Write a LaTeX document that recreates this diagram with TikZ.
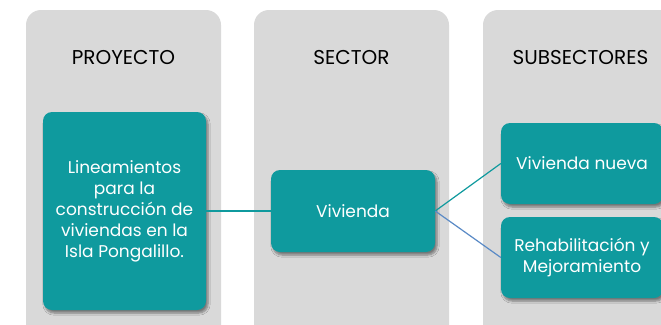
\documentclass[tikz,border=0pt]{standalone}
\usepackage{fontspec}
\setmainfont{Poppins}
\usepackage{tikz}
\usetikzlibrary{positioning,shadows.blur}
\usepackage{xcolor}
\definecolor{colgray}{HTML}{D9D9D9}
\definecolor{boxteal}{HTML}{0F9A9E}
\definecolor{linkblue}{HTML}{5A8AC6}

\begin{document}
\begin{tikzpicture}[x=1pt,y=-1pt,
    column/.style={fill=colgray, rounded corners=15pt, minimum width=195pt, minimum height=340pt, inner sep=0pt},
    header/.style={font=\fontsize{20}{24}\selectfont, text=black},
    item/.style={fill=boxteal, rounded corners=9pt, text=white, align=center, inner sep=0pt,
        font=\fontsize{17}{21}\selectfont,
        blur shadow={shadow xshift=2pt, shadow yshift=-3pt, shadow opacity=45, shadow blur steps=6}},
    link/.style={line width=1.2pt}]
    \clip (0,0) rectangle (661,324);
    \fill[white] (0,0) rectangle (661,324);

    % Columns
    \node[column] (colproy) at (123.5,180) {};
    \node[column] (colsect) at (351.5,180) {};
    \node[column] (colsub) at (580.5,180) {};

    % Headers
    \node[header] (hproy) at (123.5,58) {PROYECTO};
    \node[header] (hsect) at (351.5,58) {SECTOR};
    \node[header] (hsub) at (580.5,58) {SUBSECTORES};

    % Boxes
    \node[item, minimum width=163pt, minimum height=198pt] (proyecto) at (124.5,211)
        {Lineamientos\\para la\\construcción de\\viviendas en la\\Isla Pongalillo.};
    \node[item, minimum width=164pt, minimum height=82pt] (vivienda) at (353,211) {Vivienda};
    \node[item, minimum width=162pt, minimum height=81pt] (nueva) at (582,163.5) {Vivienda nueva};
    \node[item, minimum width=162pt, minimum height=81pt] (rehab) at (582,257.5) {Rehabilitación y\\Mejoramiento};

    % Connectors
    \draw[link, boxteal] (proyecto.east) -- (vivienda.west);
    \draw[link, boxteal] (vivienda.east) -- (nueva.west);
    \draw[link, linkblue] (vivienda.east) -- (rehab.west);
\end{tikzpicture}
\end{document}
